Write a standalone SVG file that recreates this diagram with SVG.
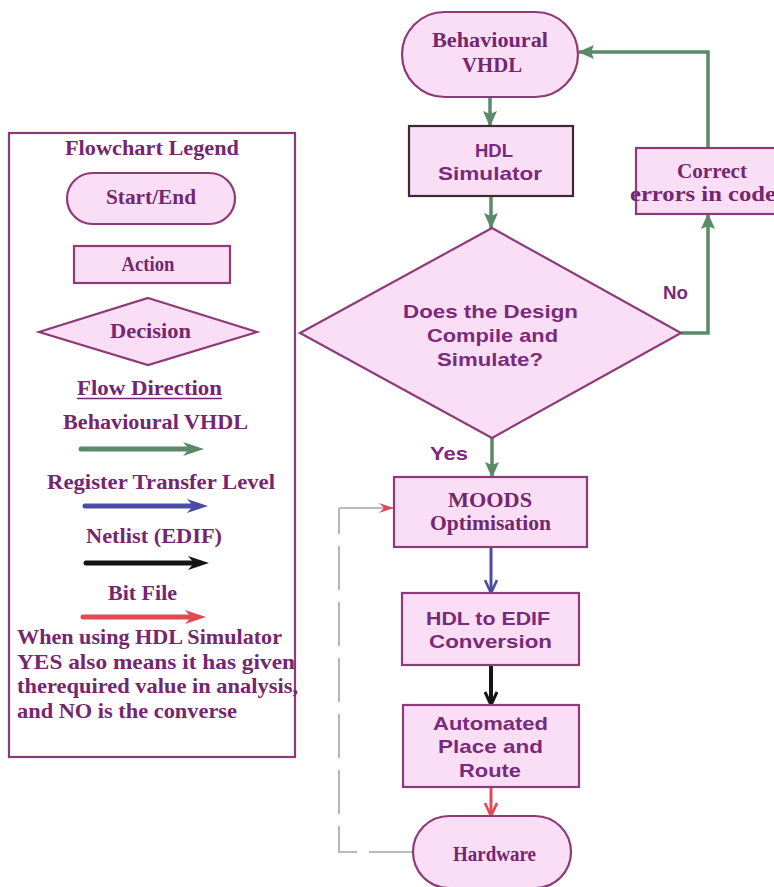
<svg xmlns="http://www.w3.org/2000/svg" width="774" height="887" viewBox="0 0 774 887">
  <defs>
    <style>
      .shape { fill: #f9def5; stroke: #8e3a76; stroke-width: 2.2; }
      .dark { stroke: #3a2a34; }
      .serif { font-family: "Liberation Serif", "Times New Roman", serif; font-weight: bold; fill: #74266f; }
      .sans { font-family: "Liberation Sans", Arial, sans-serif; font-weight: bold; fill: #7a2a7c; }
      .c { text-anchor: middle; }
      .green { stroke: #5b8a68; stroke-width: 3.5; fill: none; }
      .blue { stroke: #4a4ca6; stroke-width: 3; fill: none; }
      .black { stroke: #141414; stroke-width: 4; fill: none; }
      .red { stroke: #e04a52; stroke-width: 3; fill: none; }
      .loop { stroke: #a8a4a8; stroke-width: 1.6; fill: none; }
    </style>
    <marker id="headGreen" markerUnits="userSpaceOnUse" viewBox="0 0 16 14" refX="15" refY="7" markerWidth="16" markerHeight="14" orient="auto">
      <path d="M0,0 L16,7 L0,14 L3,7 z" fill="#5b8a68"/>
    </marker>
    <marker id="headBlue" markerUnits="userSpaceOnUse" viewBox="0 0 16 14" refX="14" refY="7" markerWidth="16" markerHeight="14" orient="auto">
      <path d="M1,1 L14,7 L1,13" fill="none" stroke="#4a4ca6" stroke-width="2.6"/>
    </marker>
    <marker id="headBlack" markerUnits="userSpaceOnUse" viewBox="0 0 16 14" refX="14" refY="7" markerWidth="16" markerHeight="14" orient="auto">
      <path d="M1,1 L14,7 L1,13" fill="none" stroke="#141414" stroke-width="3"/>
    </marker>
    <marker id="headRed" markerUnits="userSpaceOnUse" viewBox="0 0 16 14" refX="14" refY="7" markerWidth="16" markerHeight="14" orient="auto">
      <path d="M1,1 L14,7 L1,13" fill="none" stroke="#e04a52" stroke-width="2.6"/>
    </marker>
    <marker id="headRedThin" markerUnits="userSpaceOnUse" viewBox="0 0 16 12" refX="15" refY="6" markerWidth="16" markerHeight="12" orient="auto">
      <path d="M0,1 L15,6 L0,11 L5,6 z" fill="#e04a52"/>
    </marker>
  </defs>

  <rect width="774" height="887" fill="#ffffff"/>

  <!-- Legend panel -->
  <g id="legend">
    <rect x="9" y="133" width="286" height="624" fill="#ffffff" stroke="#8e3a76" stroke-width="2.2"/>
    <text class="serif c" x="152" y="155" font-size="20" textLength="174" lengthAdjust="spacingAndGlyphs">Flowchart Legend</text>

    <g id="legend-start-end">
      <rect class="shape" x="67" y="173" width="168" height="51" rx="25.5"/>
      <text class="serif c" x="151" y="204" font-size="20" textLength="90" lengthAdjust="spacingAndGlyphs">Start/End</text>
    </g>
    <g id="legend-action">
      <rect class="shape" x="74" y="246" width="156" height="37"/>
      <text class="serif c" x="148" y="271" font-size="20" textLength="53" lengthAdjust="spacingAndGlyphs">Action</text>
    </g>
    <g id="legend-decision">
      <polygon class="shape" points="148,298 257,332 148,365 39,332"/>
      <text class="serif c" x="150.5" y="338" font-size="20" textLength="81" lengthAdjust="spacingAndGlyphs">Decision</text>
    </g>

    <text class="serif c" x="149.5" y="395" font-size="20" textLength="145" lengthAdjust="spacingAndGlyphs">Flow Direction</text>
    <line x1="77" y1="398.5" x2="222" y2="398.5" stroke="#74266f" stroke-width="1.5"/>

    <text class="serif c" x="155.5" y="429" font-size="20" textLength="185" lengthAdjust="spacingAndGlyphs">Behavioural VHDL</text>
    <g id="legend-arrow-green">
      <line x1="81" y1="449" x2="194" y2="449" stroke="#5b8a68" stroke-width="5" stroke-linecap="round"/>
      <path d="M183,442 L204,449 L183,456 L189,449 z" fill="#5b8a68"/>
    </g>

    <text class="serif c" x="161" y="489" font-size="20" textLength="228" lengthAdjust="spacingAndGlyphs">Register Transfer Level</text>
    <g id="legend-arrow-blue">
      <line x1="85" y1="506" x2="198" y2="506" stroke="#4a4ca6" stroke-width="5" stroke-linecap="round"/>
      <path d="M187,499 L208,506 L187,513 L193,506 z" fill="#4a4ca6"/>
    </g>

    <text class="serif c" x="154" y="543" font-size="20" textLength="136" lengthAdjust="spacingAndGlyphs">Netlist (EDIF)</text>
    <g id="legend-arrow-black">
      <line x1="86" y1="563" x2="199" y2="563" stroke="#141414" stroke-width="5" stroke-linecap="round"/>
      <path d="M188,556 L209,563 L188,570 L194,563 z" fill="#141414"/>
    </g>

    <text class="serif c" x="142.5" y="600" font-size="20" textLength="69" lengthAdjust="spacingAndGlyphs">Bit File</text>
    <g id="legend-arrow-red">
      <line x1="83" y1="617" x2="196" y2="617" stroke="#e04a52" stroke-width="5" stroke-linecap="round"/>
      <path d="M185,610 L206,617 L185,624 L191,617 z" fill="#e04a52"/>
    </g>

    <text class="serif" x="17" y="644" font-size="21" textLength="265" lengthAdjust="spacingAndGlyphs">When using HDL Simulator</text>
    <text class="serif" x="17" y="669" font-size="21" textLength="278" lengthAdjust="spacingAndGlyphs">YES also means it has given</text>
    <text class="serif" x="17" y="693" font-size="21" textLength="281" lengthAdjust="spacingAndGlyphs">therequired value in analysis,</text>
    <text class="serif" x="17" y="718" font-size="21" textLength="220" lengthAdjust="spacingAndGlyphs">and NO is the converse</text>
  </g>

  <!-- Connectors -->
  <g id="connectors">
    <path class="green" d="M490,97 L490,126" marker-end="url(#headGreen)"/>
    <path class="green" d="M491,196 L491,228" marker-end="url(#headGreen)"/>
    <path class="green" d="M681,333 L708,333 L708,214" marker-end="url(#headGreen)"/>
    <path class="green" d="M708,148 L708,52 L579,52" marker-end="url(#headGreen)"/>
    <path class="green" d="M492,438 L492,477" marker-end="url(#headGreen)"/>
    <path class="blue" d="M491,547 L491,593" marker-end="url(#headBlue)"/>
    <path class="black" d="M491,665 L491,705" marker-end="url(#headBlack)"/>
    <path class="red" d="M491,787 L491,816" marker-end="url(#headRed)"/>
    <path class="loop" d="M413,852 L339,852 L339,508" stroke-dasharray="44 12"/>
    <path class="loop" d="M339,508 L394,508" marker-end="url(#headRedThin)"/>
  </g>

  <!-- Flow nodes -->
  <g id="behavioural-vhdl">
    <rect class="shape" x="402" y="12" width="176" height="85" rx="42.5"/>
    <text class="serif c" x="490" y="47" font-size="20" textLength="116" lengthAdjust="spacingAndGlyphs">Behavioural</text>
    <text class="serif c" x="492" y="72" font-size="20" textLength="60" lengthAdjust="spacingAndGlyphs">VHDL</text>
  </g>

  <g id="hdl-simulator">
    <rect class="shape dark" x="409" y="126" width="164" height="70" stroke-width="1.6"/>
    <text class="sans c" x="494" y="157" font-size="19" textLength="38" lengthAdjust="spacingAndGlyphs">HDL</text>
    <text class="sans c" x="490" y="180" font-size="19" textLength="104" lengthAdjust="spacingAndGlyphs">Simulator</text>
  </g>

  <g id="compile-decision">
    <polygon class="shape" points="492,228 681,333 492,438 300,333"/>
    <text class="sans c" x="490.5" y="318" font-size="19" textLength="175" lengthAdjust="spacingAndGlyphs">Does the Design</text>
    <text class="sans c" x="492.5" y="342" font-size="19" textLength="131" lengthAdjust="spacingAndGlyphs">Compile and</text>
    <text class="sans c" x="490" y="366" font-size="19" textLength="106" lengthAdjust="spacingAndGlyphs">Simulate?</text>
  </g>

  <g id="label-no">
    <text class="sans c" x="675.5" y="299" font-size="19" textLength="25" lengthAdjust="spacingAndGlyphs">No</text>
  </g>
  <g id="label-yes">
    <text class="sans c" x="449" y="460" font-size="19" textLength="38" lengthAdjust="spacingAndGlyphs">Yes</text>
  </g>

  <g id="correct-errors">
    <rect class="shape" x="636" y="148" width="150" height="66"/>
    <text class="serif c" x="712" y="178" font-size="20" textLength="70" lengthAdjust="spacingAndGlyphs">Correct</text>
    <text class="serif" x="630" y="201" font-size="20" textLength="146" lengthAdjust="spacingAndGlyphs">errors in code</text>
  </g>

  <g id="moods-optimisation">
    <rect class="shape" x="394" y="477" width="193" height="70"/>
    <text class="serif c" x="490" y="507" font-size="20" textLength="84" lengthAdjust="spacingAndGlyphs">MOODS</text>
    <text class="serif c" x="490.5" y="530" font-size="20" textLength="121" lengthAdjust="spacingAndGlyphs">Optimisation</text>
  </g>

  <g id="hdl-to-edif">
    <rect class="shape" x="402" y="593" width="177" height="72"/>
    <text class="sans c" x="488" y="625" font-size="19" textLength="124" lengthAdjust="spacingAndGlyphs">HDL to EDIF</text>
    <text class="sans c" x="490.5" y="648" font-size="19" textLength="123" lengthAdjust="spacingAndGlyphs">Conversion</text>
  </g>

  <g id="place-and-route">
    <rect class="shape" x="403" y="705" width="176" height="82"/>
    <text class="sans c" x="490.5" y="730" font-size="19" textLength="115" lengthAdjust="spacingAndGlyphs">Automated</text>
    <text class="sans c" x="490.5" y="753" font-size="19" textLength="105" lengthAdjust="spacingAndGlyphs">Place and</text>
    <text class="sans c" x="490" y="777" font-size="19" textLength="62" lengthAdjust="spacingAndGlyphs">Route</text>
  </g>

  <g id="hardware">
    <rect class="shape" x="413" y="816" width="158" height="72" rx="36"/>
    <text class="serif c" x="494.5" y="861" font-size="20" textLength="83" lengthAdjust="spacingAndGlyphs">Hardware</text>
  </g>
</svg>
